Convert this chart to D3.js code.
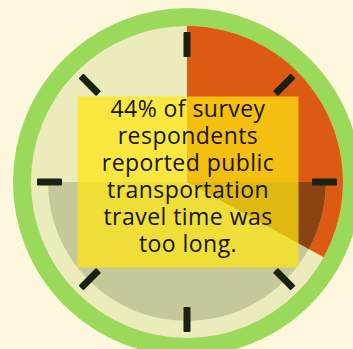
<!DOCTYPE html>
<html>
<head>
<meta charset="utf-8">
<script src="https://cdn.jsdelivr.net/npm/d3@7"></script>
<style>
  body { margin: 0; background: #fdf8dd; }
  svg { display: block; }
</style>
</head>
<body>
<div id="chart"></div>
<script>
// survey answer shares (percent)
const categories = ["Too long", "Not too long"];
const values = [44, 56];
const sliceColors = ["#dc5a12", "none"];

// clock tick marks, degrees clockwise from 12 o'clock
const tickAngles = [0, 45, 90, 135, 180, 225, 270, 315];

const labelLines = [
    "44% of survey",
    "respondents",
    "reported public",
    "transportation",
    "travel time was",
    "too long."
];

const width = 353, height = 349;
const cx = 187, cy = 182;
const rOuter = 174, rFace = 156, rShadow = 139;
const tickInner = 125, tickOuter = 150;

const svg = d3.select("#chart")
    .append("svg")
    .attr("width", width)
    .attr("height", height);

const g = svg.append("g")
    .attr("transform", `translate(${cx},${cy})`);

// green rim + face
g.append("circle")
    .attr("r", (rOuter + rFace) / 2)
    .attr("fill", "#ebebbb")
    .attr("stroke", "#9bd95a")
    .attr("stroke-width", rOuter - rFace);

// pie slice swept over three quarters of the dial
const pie = d3.pie()
    .sort(null)
    .startAngle(0)
    .endAngle(1.5 * Math.PI);

const arcs = pie(values);
const arc = d3.arc().innerRadius(0).outerRadius(rFace);

g.selectAll(".slice")
    .data(arcs)
    .enter().append("path")
    .attr("class", "slice")
    .attr("d", arc)
    .attr("fill", (d, i) => sliceColors[i]);

// shadow over lower half
const shadowArc = d3.arc()
    .innerRadius(0)
    .outerRadius(rShadow)
    .startAngle(Math.PI / 2)
    .endAngle(1.5 * Math.PI);

svg.append("defs").append("clipPath")
    .attr("id", "shadow-clip")
    .append("path")
    .attr("d", shadowArc());

g.append("path")
    .attr("d", shadowArc())
    .attr("fill", "#c6c89a");

g.append("g")
    .attr("clip-path", "url(#shadow-clip)")
    .selectAll(".slice-dark")
    .data(arcs.slice(0, 1))
    .enter().append("path")
    .attr("class", "slice-dark")
    .attr("d", arc)
    .attr("fill", "#8b4312");

// tick marks
g.selectAll(".tick")
    .data(tickAngles)
    .enter().append("rect")
    .attr("class", "tick")
    .attr("x", -3.5)
    .attr("y", -tickOuter)
    .attr("width", 7)
    .attr("height", tickOuter - tickInner)
    .attr("rx", 1)
    .attr("fill", "#1a2212")
    .attr("transform", d => `rotate(${d})`);

// label box
const boxW = 221, boxH = 171;
g.append("rect")
    .attr("x", -boxW / 2 + 1)
    .attr("y", -boxH / 2)
    .attr("width", boxW)
    .attr("height", boxH)
    .attr("fill", "#ffe612")
    .attr("opacity", 0.72);

const lineH = 27;
const label = g.append("text")
    .attr("text-anchor", "middle")
    .attr("font-family", "'Open Sans', 'Noto Sans', sans-serif")
    .attr("font-size", 23)
    .attr("fill", "#151512");

const spans = label.selectAll("tspan")
    .data(labelLines)
    .enter().append("tspan")
    .attr("x", 1)
    .attr("y", (d, i) => -65.5 + i * lineH)
    .text(d => d);

// stretch letter spacing so the widest line spans ~172px like the original
const widest = d3.max(spans.nodes(), n => n.getComputedTextLength());
const longest = d3.max(labelLines, s => s.length);
label.attr("letter-spacing", (172 - widest) / (longest - 1));
</script>
</body>
</html>
